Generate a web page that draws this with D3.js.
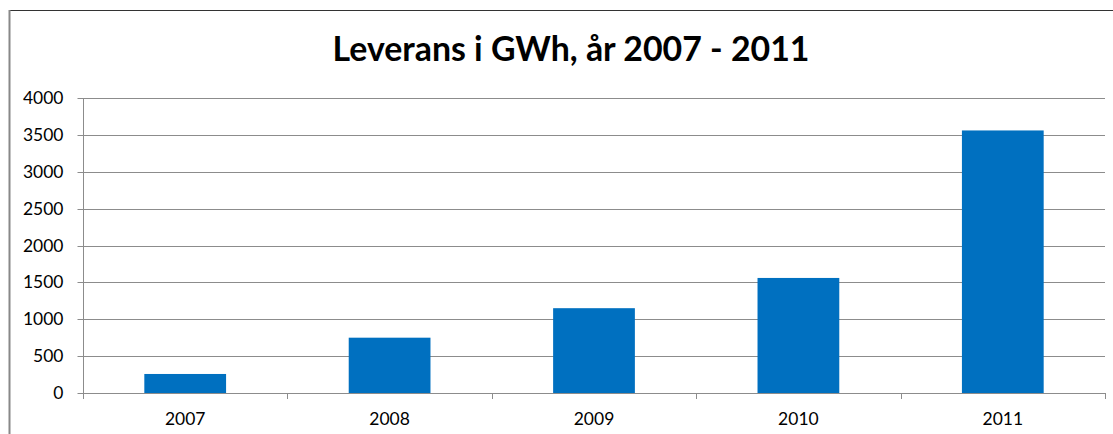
<!DOCTYPE html>
<html><head><meta charset="utf-8">
<script src="https://cdn.jsdelivr.net/npm/d3@7"></script>
<style>body{margin:0;background:#fff}svg{display:block}</style>
</head><body>
<svg id="c" width="1113" height="434"></svg>
<script>
const categories = ["2007","2008","2009","2010","2011"];
const values = [258, 750, 1150, 1560, 3560];
const yTicks = [0,500,1000,1500,2000,2500,3000,3500,4000];
const title = "Leverans i GWh, år 2007 - 2011";

const svg = d3.select("#c");
const L = 83, R = 1105, T = 98, B = 393;
const x = d3.scaleBand().domain(categories).range([L, R]).paddingInner(0.6).paddingOuter(0.3);
const y = d3.scaleLinear().domain([0, 4000]).range([B, T]);

function fit(sel, target){
  const w = sel.node().getComputedTextLength();
  const fs = parseFloat(sel.attr("font-size"));
  sel.attr("font-size", fs*target/w);
  return fs*target/w;
}

// border
svg.append("rect").attr("x",9.5).attr("y",10.5).attr("width",1200).attr("height",500)
  .attr("fill","none").attr("stroke","#333").attr("stroke-width",1);
svg.append("line").attr("x1",9.5).attr("x2",9.5).attr("y1",10).attr("y2",434).attr("stroke","#888").attr("stroke-width",2);

// title
const tt = svg.append("text").attr("x",571).attr("y",61).attr("text-anchor","middle")
  .attr("font-family","Lato").attr("font-weight","bold").attr("font-size",29)
  .attr("fill","#000").text(title);
fit(tt, 477);

// measure label font size
const probe = svg.append("text").attr("font-family","Lato").attr("font-size",17.5).text("4000");
const lfs = fit(probe, 40.6);
probe.remove();

// gridlines
svg.append("g").selectAll("line").data(yTicks.filter(d=>d>0)).join("line")
  .attr("x1",L).attr("x2",R).attr("y1",d=>Math.round(y(d))+0.5).attr("y2",d=>Math.round(y(d))+0.5)
  .attr("stroke","#8c8c8c").attr("stroke-width",1);

// bars
svg.append("g").selectAll("rect").data(values).join("rect")
  .attr("x",(d,i)=>x(categories[i])).attr("width",x.bandwidth())
  .attr("y",d=>y(d)).attr("height",d=>B-y(d)).attr("fill","#0070C0");

// y axis
const ya = d3.axisLeft(y).tickValues(yTicks).tickSize(6).tickPadding(14).tickFormat(d3.format("d"));
const gy = svg.append("g").attr("transform",`translate(${L+0.5},0)`).call(ya);
gy.selectAll(".tick").attr("transform",d=>`translate(0,${Math.round(y(d))+0.5})`);
gy.select(".domain").attr("d",`M0,${T}V${B}`).attr("stroke","#8c8c8c");
gy.selectAll(".tick line").attr("stroke","#8c8c8c");
gy.selectAll("text").attr("font-family","Lato").attr("font-size",lfs).attr("fill","#000");

// x axis
const xa = d3.axisBottom(x).tickSize(0).tickPadding(19);
const gx = svg.append("g").attr("transform",`translate(0,${B+0.5})`).call(xa);
gx.select(".domain").attr("d",`M${L},0H${R}`).attr("stroke","#8c8c8c");
gx.selectAll("text").attr("font-family","Lato").attr("font-size",lfs).attr("fill","#000");
const bounds = d3.range(categories.length+1).map(i=>L + i*(R-L)/categories.length);
svg.append("g").selectAll("line").data(bounds).join("line")
  .attr("x1",d=>Math.round(d)+0.5).attr("x2",d=>Math.round(d)+0.5).attr("y1",B).attr("y2",B+6)
  .attr("stroke","#8c8c8c");
</script>
</body></html>
